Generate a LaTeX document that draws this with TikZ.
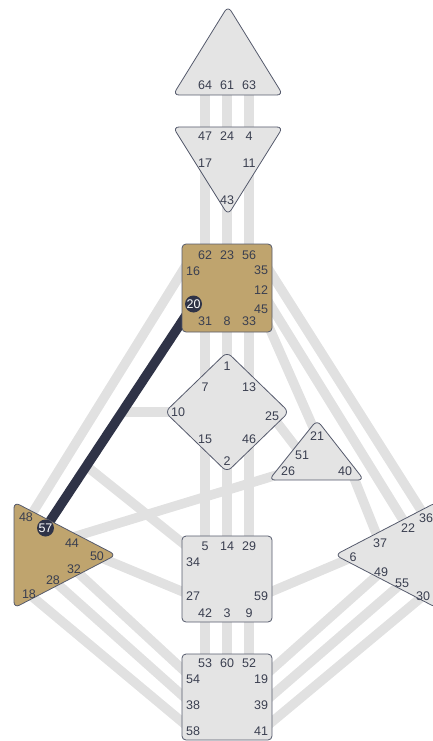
\documentclass[tikz,border=0pt]{standalone}
\usepackage{fontspec}
\setmainfont{Liberation Sans}
\definecolor{chgray}{HTML}{E1E1E1}
\definecolor{cgray}{HTML}{E4E4E4}
\definecolor{tanc}{HTML}{BFA46E}
\definecolor{darkc}{HTML}{2F3347}
\definecolor{edgec}{HTML}{555A6C}
\definecolor{txt}{HTML}{3A3F50}
\begin{document}
\begin{tikzpicture}[x=1pt,y=-1pt,
  chan/.style={line width=9.5pt, draw=chgray},
  actchan/.style={line width=9.5pt, draw=darkc},
  ctr/.style={draw=edgec, line width=0.8pt, fill=cgray, rounded corners=4pt},
  tri/.style={ctr, rounded corners=6pt},
  defctr/.style={ctr, fill=tanc},
  gl/.style={font=\fontsize{12.5}{13}\selectfont, text=txt, inner sep=0pt},
  gact/.style={circle, fill=darkc, text=white, font=\fontsize{12.5}{13}\selectfont, inner sep=0pt, minimum size=17pt}]
\useasboundingbox (0,0) rectangle (432,741);
% gate positions
\foreach \n/\x/\y in {64/205/85, 61/227/85, 63/249/85,
  47/205/136, 24/227/136, 4/249/136, 17/205/163, 11/249/163, 43/227/200,
  62/205/255, 23/227/255, 56/249/255, 16/193/271, 35/261/270, 12/261/290,
  20/193.5/304, 45/261/309, 31/205/321, 8/227/321, 33/249/321,
  1/227/366, 7/205/387, 13/249/387, 10/178/412, 25/272/416, 15/205/439, 46/249/439, 2/227/461,
  21/317/436, 51/302/455, 26/288/471, 40/345/471,
  48/26/517, 57/45.5/528, 44/72/543, 50/97/556, 32/74/569, 28/53/580, 18/29/594,
  5/205/546, 14/227/546, 29/249/546, 34/193/562, 27/193/596, 59/261/596, 42/205/613, 3/227/613, 9/249/613,
  36/426/518, 22/408/528, 37/380/543, 6/353/557, 49/381/572, 55/402/583, 30/423/596,
  53/205/663, 60/227/663, 52/249/663, 54/193/679, 19/261/679, 38/193/705, 39/261/705, 58/193/731, 41/261/731}
  {\coordinate (p\n) at (\x,\y);}
% extra anchors
\coordinate (a16) at (190,259);
\coordinate (a48) at (30,517);
\coordinate (a35) at (262,259);
\coordinate (a36) at (426,518);
\coordinate (a40) at (350,468);
\coordinate (a26) at (280,474);
\coordinate (a44) at (70,538);
\coordinate (a34) at (195,553);
\coordinate (j34) at (86.1,465.8);
\coordinate (j10) at (121.6,412);
% inactive channels
\foreach \a/\b in {64/47, 61/24, 63/4, 17/62, 43/23, 11/56, 31/7, 8/1, 33/13,
  15/5, 2/14, 46/29, 42/53, 3/60, 9/52, 12/22, 45/21, 25/51, 6/59, 50/27,
  32/54, 28/38, 18/58, 49/19, 55/39, 30/41}
  {\draw[chan] (p\a) -- (p\b);}
\draw[chan] (a16) -- (a48);
\draw[chan] (a35) -- (a36);
\draw[chan] (a40) -- (p37);
\draw[chan] (a26) -- (a44);
\draw[chan] (p10) -- (j10);
\draw[chan] (a34) -- (j34);
% active channel
\draw[actchan] (p20) -- (p57);
% centers
\draw[tri] (228,6) -- (283,95) -- (173,95) -- cycle;
\draw[tri] (173,127) -- (283,127) -- (228,215) -- cycle;
\draw[defctr] (182,244) rectangle (272,332);
\draw[tri] (227,352) -- (289,412) -- (227,472) -- (165,412) -- cycle;
\draw[tri] (317,420) -- (364,480) -- (269,480) -- cycle;
\draw[defctr, rounded corners=6pt] (14,502) -- (116,555) -- (14,608) -- cycle;
\draw[ctr] (182,536) rectangle (272,622);
\draw[tri] (335,555) -- (437,502) -- (437,608) -- cycle;
\draw[ctr] (182,654) rectangle (272,740);
% gate labels
\foreach \n in {64,61,63,47,24,4,17,11,43,62,23,56,16,35,12,45,31,8,33,
  1,7,13,10,25,15,46,2,21,51,26,40,48,44,50,32,28,18,
  5,14,29,34,27,59,42,3,9,36,22,37,6,49,55,30,53,60,52,54,19,38,39,58,41}
  {\node[gl] (g\n) at (p\n) {\n};}
\node[gact] (g20) at (p20) {20};
\node[gact] (g57) at (p57) {57};
\end{tikzpicture}
\end{document}
